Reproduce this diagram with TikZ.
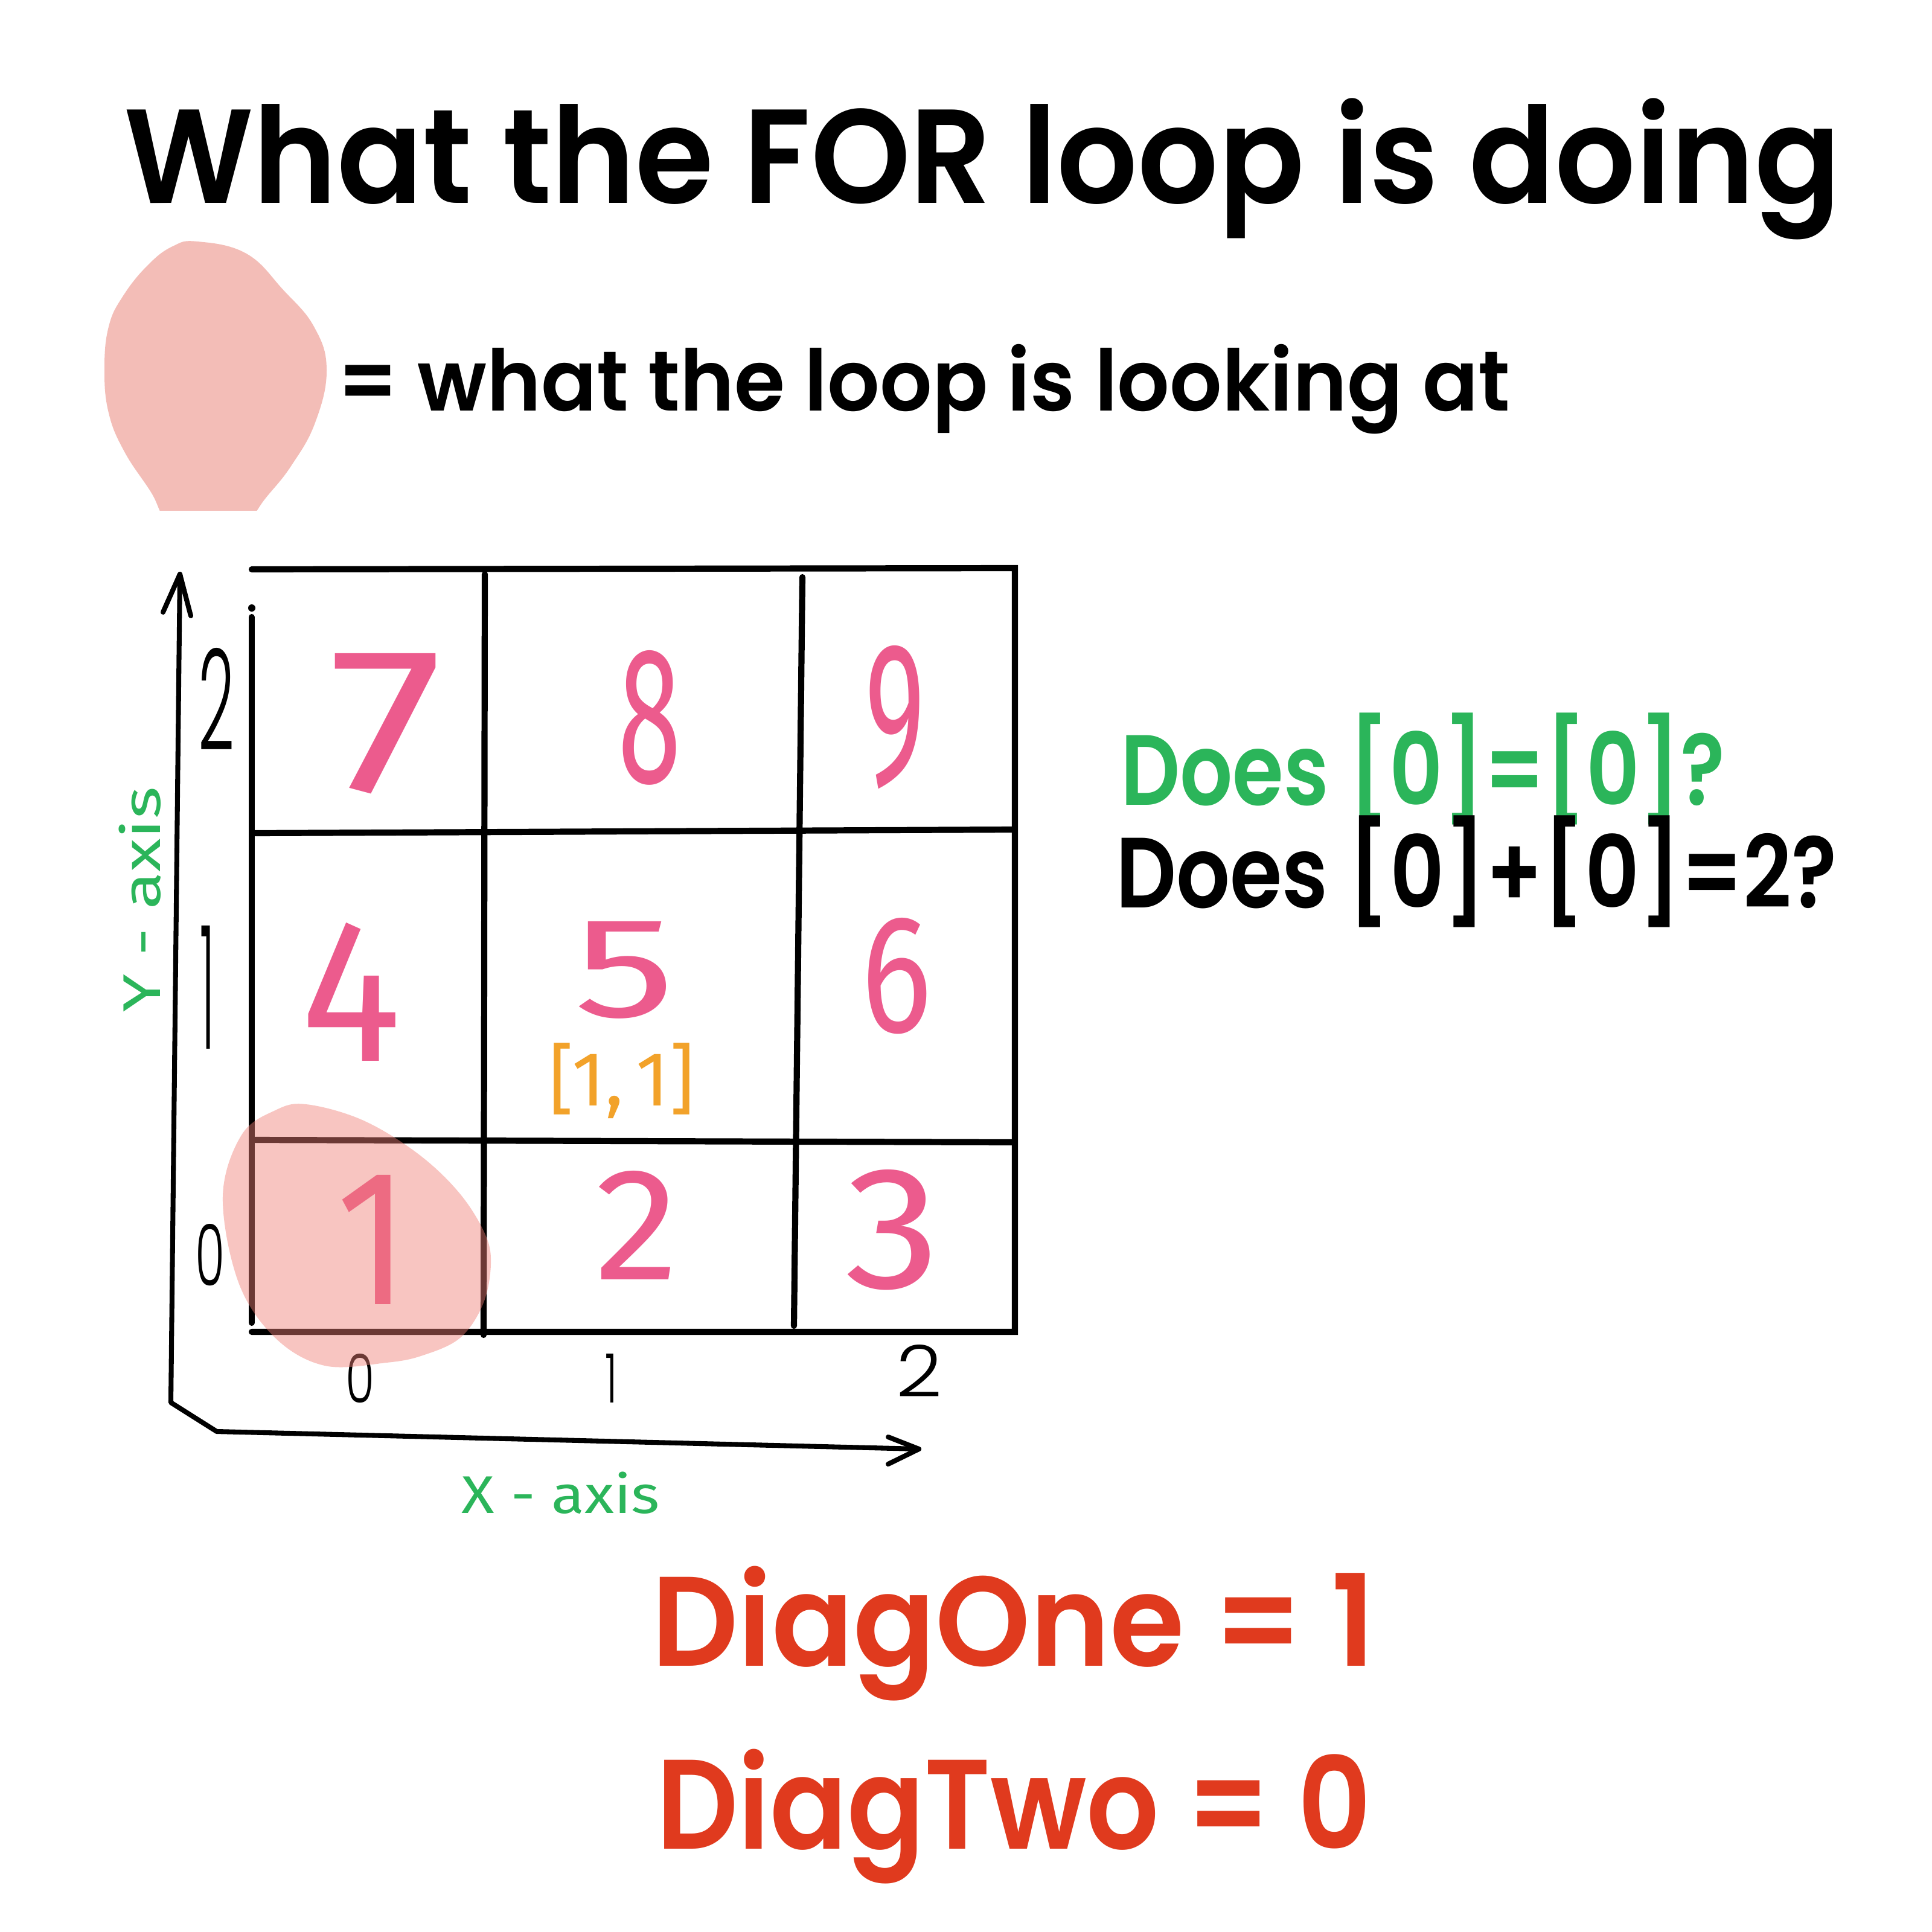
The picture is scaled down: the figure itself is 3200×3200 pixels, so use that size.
\documentclass[tikz,border=0pt]{standalone}
\usepackage{fontspec}
\usepackage{graphicx}
\setmainfont{Poppins}
\newfontfamily\pops{Poppins SemiBold}
\newfontfamily\popl{Poppins Light}
\newfontfamily\hand{Fira Sans}
\definecolor{ggreen}{HTML}{2BB55A}
\definecolor{rred}{HTML}{E03A1E}
\definecolor{ppink}{HTML}{EC5B8D}
\definecolor{oorange}{HTML}{F2A22A}
\definecolor{blobc}{HTML}{F3BDB7}
\definecolor{blobd}{HTML}{F07F76}
% fit text to a width, keep natural height
\newcommand{\fitw}[2]{\resizebox{#1}{\height}{#2}}
% fit text to a width and height
\newcommand{\fitwh}[3]{\resizebox{#1}{#2}{#3}}
\begin{document}
\begin{tikzpicture}[x=0.01cm,y=-0.01cm,
  txt/.style={inner sep=0pt,outer sep=0pt,anchor=base west},
  gridline/.style={line width=2.9pt,line cap=round},
  axisline/.style={line width=2.3pt,line cap=round,line join=round},
  celldigit/.style={inner sep=0pt,text=ppink,font=\hand\fontsize{88}{88}\selectfont},
  tick/.style={inner sep=0pt,text=black,font=\popl\fontsize{40}{40}\selectfont},
  axlabel/.style={inner sep=0pt,text=ggreen,font=\hand\fontsize{25}{25}\selectfont}]
\useasboundingbox (0,0) rectangle (3200,3200);
\fill[white] (0,0) rectangle (3200,3200);

% title
\node[txt,font=\pops\fontsize{63}{63}\selectfont] (title) at (205,337) {\fitw{28.42cm}{What the FOR loop is doing}};

% legend blob
\begin{scope}
\clip (0,0) rectangle (3200,845);
\fill[blobc] plot[smooth cycle,tension=0.7] coordinates {(327,400) (408,420) (469,480) (520,541) (541,612) (522,700) (482,772) (440,825) (405,868) (345,895) (280,866) (250,815) (206,748) (180,684) (173,612) (180,541) (204,490) (245,439) (286,408)};
\end{scope}
\node[txt,font=\pops\fontsize{40}{40}\selectfont] (legend) at (559,680) {\fitw{19.41cm}{= what the loop is looking at}};

% grid
\coordinate (g00) at (417,943);
\coordinate (g30) at (1681,941);
\coordinate (g33) at (1681,2206);
\coordinate (g03) at (417,2206);
\draw[gridline] (g00) -- (g30) -- (g33) -- (g03);
\draw[gridline] (417,1022) -- (417,2191);
\fill (417,1007) circle (6);
\draw[gridline] (803,951) -- (801,2211);
\draw[gridline] (1329,956) -- (1315,2196);
\draw[gridline] (423,1380) -- (1676,1374);
\draw[gridline] (423,1888) -- (1676,1892);

% axes
\coordinate (ytip) at (298,951);
\coordinate (corner) at (283,2323);
\coordinate (corner2) at (359,2371);
\coordinate (xtip) at (1522,2400);
\draw[axisline] (ytip) -- (corner) -- (corner2) -- (xtip);
\draw[axisline] (270,1014) -- (ytip) -- (316,1020);
\draw[axisline] (1471,2380) -- (xtip) -- (1471,2425);

% ticks
\node[tick] (ty2) at (359,1158) {\fitwh{0.60cm}{1.69cm}{2}};
\node[tick] (ty1) at (344,1635) {\fitwh{0.24cm}{2.04cm}{1}};
\node[tick] (ty0) at (348,2079) {\fitwh{0.49cm}{1.02cm}{0}};
\node[tick] (tx0) at (597,2283) {\fitwh{0.48cm}{0.81cm}{0}};
\node[tick] (tx1) at (1012,2283) {\fitwh{0.20cm}{0.81cm}{1}};
\node[tick] (tx2) at (1523,2270) {\fitwh{0.76cm}{0.86cm}{2}};

% axis labels
\node[axlabel,rotate=90] (ylab) at (232,1490) {\fitw{3.73cm}{Y - axis}};
\node[axlabel] (xlab) at (929,2473) {\fitw{3.28cm}{X - axis}};

% cell digits
\node[celldigit] (c7) at (640,1199) {\fitwh{1.90cm}{2.29cm}{7}};
\node[celldigit] (c8) at (1076,1189) {\fitwh{1.05cm}{2.19cm}{8}};
\node[celldigit] (c9) at (1483,1188) {\fitwh{1.00cm}{2.30cm}{9}};
\node[celldigit] (c4) at (582,1643) {\fitwh{1.66cm}{2.29cm}{4}};
\node[celldigit] (c5) at (1035,1607) {\fitwh{1.68cm}{1.58cm}{5}};
\node[celldigit] (c6) at (1485,1617) {\fitwh{1.17cm}{1.89cm}{6}};
\node[celldigit] (c1) at (618,2053) {\fitwh{1.20cm}{2.14cm}{1}};
\node[celldigit] (c2) at (1055,2029) {\fitwh{1.39cm}{1.80cm}{2}};
\node[celldigit] (c3) at (1479,2037) {\fitwh{1.58cm}{1.96cm}{3}};
\node[inner sep=0pt,text=oorange,font=\hand\fontsize{32}{32}\selectfont] (idx) at (1030,1790) {\resizebox*{2.40cm}{1.25cm}{[1,\,1]}};

% highlight blob
\fill[blobd,opacity=0.45] plot[smooth cycle,tension=0.6] coordinates {(507,1829) (600,1855) (691,1910) (760,1975) (803,2043) (813,2094) (800,2160) (762,2216) (700,2245) (640,2257) (538,2262) (456,2216) (395,2124) (369,1982) (400,1880) (456,1839)};

% questions
\node[txt,text=ggreen,font=\pops\fontsize{47}{47}\selectfont] (q1) at (1856,1333) {\fitw{10.01cm}{Does [0]=[0]?}};
\node[txt,text=black,font=\pops\fontsize{47}{47}\selectfont] (q2) at (1848,1503) {\fitw{11.94cm}{Does [0]+[0]=2?}};

% results
\node[txt,text=rred,font=\pops\fontsize{60}{60}\selectfont] (d1) at (1079,2759) {\fitw{11.98cm}{DiagOne = 1}};
\node[txt,text=rred,font=\pops\fontsize{60}{60}\selectfont] (d2) at (1087,3062) {\fitw{11.84cm}{DiagTwo = 0}};
\end{tikzpicture}
\end{document}
